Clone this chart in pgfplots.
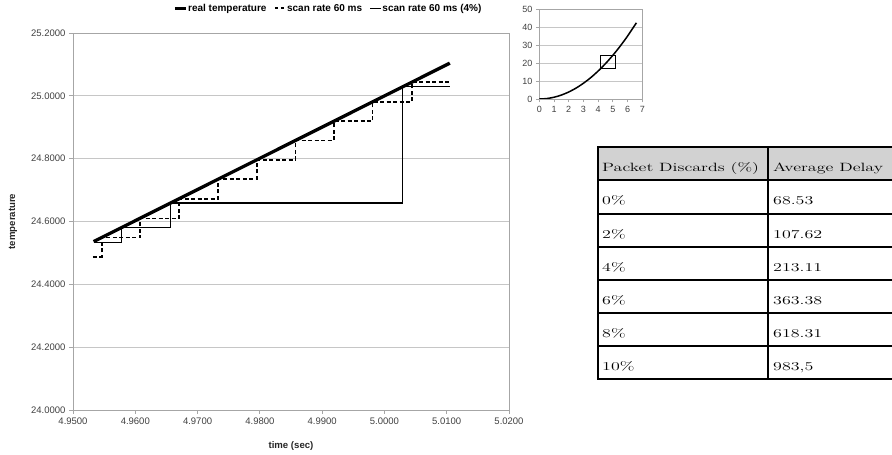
\documentclass[border=0pt]{standalone}
\usepackage{fontspec}
\usepackage{graphicx}
\usepackage{pgfplots}
\pgfplotsset{compat=1.18}
\newfontfamily\arial{Liberation Sans}

\pgfplotstableread{
x y
4.9533 24.536
5.0105 25.104
}\realT

\pgfplotstableread{
x y
4.9532 24.488
4.9546 24.488
4.9546 24.549
4.9608 24.549
4.9608 24.610
4.9670 24.610
4.9670 24.672
4.9733 24.672
4.9733 24.735
4.9795 24.735
4.9795 24.796
4.9857 24.796
4.9857 24.858
4.9919 24.858
4.9919 24.919
4.9981 24.919
4.9981 24.981
5.0044 24.981
5.0044 25.043
5.0105 25.043
}\scanA

\pgfplotstableread{
x y
4.9533 24.534
4.9578 24.534
4.9578 24.580
4.9656 24.580
4.9656 24.659
5.0029 24.659
5.0029 25.030
5.0105 25.030
}\scanB

\pgfplotstableread{
x y
0 0
0.5 0.24
1 0.98
1.5 2.19
2 3.9
2.5 6.09
3 8.78
3.5 11.94
4 15.6
4.5 19.74
5 24.38
5.5 29.49
6 35.1
6.6 42.47
}\inset

\newcommand{\tabtext}[1]{\scalebox{1.5}[1]{\fontsize{12}{14}\selectfont #1}}

\begin{document}
\begin{tikzpicture}
\path[use as bounding box] (0pt,0pt) rectangle (892pt,455pt);

% ---------------- main axis
\begin{axis}[
  at={(73pt,45pt)}, anchor=south west,
  scale only axis, width=436pt, height=377pt,
  xmin=4.95, xmax=5.02, ymin=24, ymax=25.2,
  xtick={4.95,4.96,4.97,4.98,4.99,5.00,5.01,5.02},
  ytick={24,24.2,24.4,24.6,24.8,25,25.2},
  scaled ticks=false,
  xticklabel style={/pgf/number format/.cd,fixed,fixed zerofill,precision=4},
  yticklabel style={/pgf/number format/.cd,fixed,fixed zerofill,precision=4},
  /pgf/number format/assume math mode=true,
  ticklabel style={font=\arial\fontsize{9.5}{11}\selectfont, text=black!75},
  ymajorgrids, grid style={gray!45, line width=0.9pt},
  axis line style={gray!70, line width=0.9pt},
  tick style={gray!70, line width=0.9pt},
  tick align=outside, tick pos=left, major tick length=4pt,
  xlabel={time (sec)}, ylabel={temperature},
  label style={font=\arial\bfseries\fontsize{9.6}{11}\selectfont, text=black!85},
  xlabel style={at={(axis description cs:0.5,-0.0955)}, anchor=center},
  ylabel style={at={(axis description cs:-0.1375,0.5)}, anchor=center},
  legend columns=3,
  legend style={at={(axis description cs:0.584,1.0655)}, anchor=center,
    draw=none, fill=none, font=\arial\bfseries\fontsize{10}{11}\selectfont,
    nodes={inner xsep=0.5pt, inner ysep=1pt},
    /tikz/every even column/.append style={column sep=7pt}},
  legend image code/.code={\draw[#1] (0pt,0pt) -- (11pt,0pt);},
]
\addlegendimage{black, line width=3.3pt}
\addlegendentry{real temperature}
\addlegendimage{black, line width=1.6pt, dash pattern=on 3.5pt off 2.5pt}
\addlegendentry{scan rate 60 ms}
\addlegendimage{black, line width=1.3pt}
\addlegendentry{scan rate 60 ms (4\%)}

\addplot[black, line width=1.7pt, dash pattern=on 4pt off 2.5pt, forget plot] table {\scanA};
\addplot[black, line width=1.3pt, forget plot] table {\scanB};
\addplot[black, line width=3.3pt, forget plot] table {\realT};
\end{axis}

% ---------------- inset axis
\begin{axis}[
  at={(539.3pt,356pt)}, anchor=south west,
  scale only axis, width=103pt, height=89.7pt,
  xmin=0, xmax=7, ymin=0, ymax=50,
  xtick={0,1,2,3,4,5,6,7}, ytick={0,10,20,30,40,50},
  /pgf/number format/assume math mode=true,
  ticklabel style={font=\arial\fontsize{9}{10}\selectfont, text=black!75},
  ymajorgrids, grid style={gray!45, line width=0.8pt},
  axis line style={gray!70, line width=0.8pt},
  tick style={gray!70, line width=0.8pt},
  tick align=outside, tick pos=left, major tick length=3.5pt,
]
\addplot[black, line width=1.5pt, smooth] table {\inset};
\addplot[black, line width=0.9pt] coordinates {(4.17,17.1) (5.19,17.1) (5.19,24.5) (4.17,24.5) (4.17,17.1)};
\end{axis}

% ---------------- table
\fill[gray!35] (598pt,307.7pt) rectangle (900pt,274.55pt);
\foreach \k in {0,...,7}{
  \draw[line width=2pt] (597pt,{(307.7-\k*33.15)*1pt}) -- (900pt,{(307.7-\k*33.15)*1pt});
}
\draw[line width=2.6pt] (598pt,308.7pt) -- (598pt,74.65pt);
\draw[line width=2.6pt] (768pt,308.7pt) -- (768pt,74.65pt);

\node[anchor=base west, inner sep=0pt] at (602pt,283.25pt) {\tabtext{Packet Discards (\%)}};
\node[anchor=base west, inner sep=0pt] at (773pt,283.25pt) {\tabtext{Average Delay}};
\foreach \k/\a/\b in {1/0\%/68.53, 2/2\%/107.62, 3/4\%/213.11, 4/6\%/363.38, 5/8\%/618.31, 6/10\%/{983,5}}{
  \node[anchor=base west, inner sep=0pt] at (602pt,{(455-(147.3+33.15*(\k+1)-8.7))*1pt}) {\tabtext{\a}};
  \node[anchor=base west, inner sep=0pt] at (773pt,{(455-(147.3+33.15*(\k+1)-8.7))*1pt}) {\tabtext{\b}};
}
\end{tikzpicture}
\end{document}
